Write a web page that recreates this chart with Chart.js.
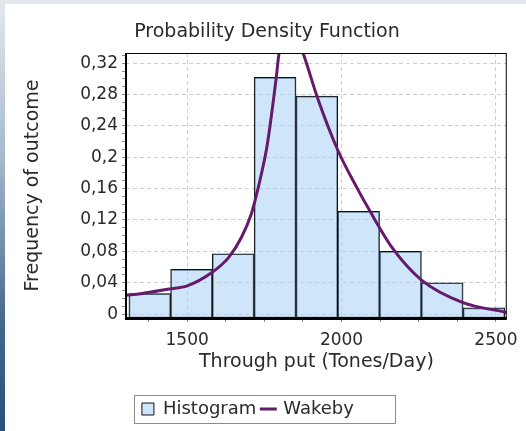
<!DOCTYPE html>
<html>
<head>
<meta charset="utf-8">
<title>Probability Density Function</title>
<script src="https://cdn.jsdelivr.net/npm/chart.js@4.4.1/dist/chart.umd.min.js"></script>
<style>
  html, body { margin: 0; padding: 0; }
  body {
    width: 526px;
    height: 431px;
    overflow: hidden;
    background: linear-gradient(to bottom, #e4e8ed 0%, #a9bbcf 35%, #45688d 75%, #2b4f78 100%);
  }
  #panel {
    position: absolute;
    left: 5px;
    top: 4px;
    width: 521px;
    height: 427px;
    background: #ffffff;
  }
  #chart-pdf { display: block; }
</style>
</head>
<body>
<div id="panel"><canvas id="chart-pdf" width="521" height="427"></canvas></div>
<script>
// Histogram: bin centres (Tones/Day) and relative frequency of each bin
const binCenters = [1379, 1514, 1649, 1785, 1920, 2055, 2191, 2326, 2461];
const binFreq = [0.026, 0.057, 0.077, 0.302, 0.278, 0.131, 0.080, 0.040, 0.008];

// Wakeby fitted density (peak goes above the plot)
const wakebyX = [1302, 1350, 1442, 1500, 1580, 1634, 1676, 1708, 1720, 1740, 1759, 1788, 1797,
                 1815, 1835, 1855, 1877, 1922, 1989, 2050, 2091, 2165, 2260, 2391, 2535];
const wakebyY = [0.024, 0.026, 0.032, 0.036, 0.053, 0.072, 0.098, 0.128, 0.145, 0.178, 0.215, 0.300, 0.331,
                 0.360, 0.365, 0.353, 0.331, 0.276, 0.208, 0.161, 0.132, 0.084, 0.043, 0.015, 0.002];

// Axes
const xMin = 1302;
const xMax = 2535;
const xTicks = [1500, 2000, 2500];
const xMinorTicks = [1375, 1625, 1750, 1875, 2125, 2250, 2375];
const yMin = -0.005;
const yMax = 0.333;
const yTicks = [0, 0.04, 0.08, 0.12, 0.16, 0.2, 0.24, 0.28, 0.32];
const yTickLabels = ['0', '0,04', '0,08', '0,12', '0,16', '0,2', '0,24', '0,28', '0,32'];
const yMinorTicks = [0.01, 0.02, 0.03, 0.05, 0.06, 0.07, 0.09, 0.10, 0.11, 0.13, 0.14, 0.15,
                     0.17, 0.18, 0.19, 0.21, 0.22, 0.23, 0.25, 0.26, 0.27, 0.29, 0.30, 0.31, 0.33];

const colors = {
  bar: 'rgba(166, 208, 246, 0.55)',
  barBorder: '#111111',
  curve: '#661a6c',
  grid: '#cfcfcf',
  tick: '#8a8a8a',
  text: '#2a2a2a',
  frame: '#000000',
  legendFrame: '#8c8c8c'
};

Chart.defaults.font.family = "'DejaVu Sans', Verdana, sans-serif";
Chart.defaults.color = colors.text;

// major ticks carry a label and a grid line, minor ones only a tick mark
function withMinor(major, minor) {
  return major.map(v => ({value: v, major: true}))
    .concat(minor.map(v => ({value: v, major: false})))
    .sort((a, b) => a.value - b.value);
}

function majorGrid(context) {
  return context.tick && context.tick.major ? colors.grid : 'rgba(0,0,0,0)';
}

// black frame round the plot, heavier on the left and bottom axis
const plotFrame = {
  id: 'plotFrame',
  afterDatasetsDraw(chart) {
    const {ctx, chartArea: a} = chart;
    ctx.save();
    ctx.strokeStyle = colors.frame;
    ctx.lineWidth = 1;
    ctx.strokeRect(a.left + 0.5, a.top + 0.5, a.right - a.left - 1, a.bottom - a.top);
    ctx.fillStyle = colors.frame;
    ctx.fillRect(a.left - 1, a.top, 2, a.bottom - a.top + 2);
    ctx.fillRect(a.left - 1, a.bottom - 1, a.right - a.left + 1, 3);
    ctx.restore();
  }
};

// thin box round the legend entries
const legendFrame = {
  id: 'legendFrame',
  afterDraw(chart) {
    const boxes = chart.legend && chart.legend.legendHitBoxes;
    if (!boxes || !boxes.length) return;
    const first = boxes[0];
    const last = boxes[boxes.length - 1];
    const x0 = Math.round(first.left - 8);
    const x1 = Math.round(last.left + last.width + 41);
    const y0 = Math.round(first.top - 5);
    const y1 = Math.round(first.top + first.height + 5);
    const ctx = chart.ctx;
    ctx.save();
    ctx.strokeStyle = colors.legendFrame;
    ctx.lineWidth = 1;
    ctx.strokeRect(x0 + 0.5, y0 + 0.5, x1 - x0, y1 - y0);
    ctx.restore();
  }
};

// title sits on the whole panel, legend entries a bit left of centre
const layoutNudge = {
  id: 'layoutNudge',
  afterLayout(chart) {
    chart.titleBlock.left += 8.5;
    chart.titleBlock.right += 8.5;
    chart.legend.left -= 10.6;
    chart.legend.right -= 10.6;
  }
};

window.chartInstances = {};

window.chartInstances['pdf'] = new Chart(document.getElementById('chart-pdf'), {
  type: 'bar',
  data: {
    datasets: [
      {
        label: 'Histogram',
        data: binCenters.map((x, i) => ({x: x, y: binFreq[i]})),
        backgroundColor: colors.bar,
        borderColor: colors.barBorder,
        borderWidth: 1,
        borderSkipped: false,
        base: yMin,
        barThickness: 'flex',
        barPercentage: 1.0,
        categoryPercentage: 1.0,
        pointStyle: 'rect',
        order: 2
      },
      {
        type: 'line',
        label: 'Wakeby',
        data: wakebyX.map((x, i) => ({x: x, y: wakebyY[i]})),
        borderColor: colors.curve,
        backgroundColor: colors.curve,
        borderWidth: 3,
        pointRadius: 0,
        pointStyle: 'line',
        cubicInterpolationMode: 'monotone',
        fill: false,
        order: 1
      }
    ]
  },
  options: {
    responsive: false,
    animation: false,
    events: [],
    layout: {
      padding: {left: 0, right: 14, top: 0, bottom: 3}
    },
    plugins: {
      title: {
        display: true,
        text: 'Probability Density Function',
        color: colors.text,
        font: {size: 19, weight: 'normal'},
        padding: {top: 16.6, bottom: 9.6}
      },
      legend: {
        position: 'bottom',
        labels: {
          usePointStyle: true,
          boxWidth: 12,
          boxHeight: 12,
          padding: 6,
          color: colors.text,
          font: {size: 18},
          sort: function(a, b) {
            return a.datasetIndex - b.datasetIndex;
          }
        }
      },
      tooltip: {
        enabled: false
      }
    },
    scales: {
      x: {
        type: 'linear',
        min: xMin,
        max: xMax,
        offset: false,
        afterBuildTicks: function(scale) {
          scale.ticks = withMinor(xTicks, xMinorTicks);
        },
        afterFit: function(scale) {
          scale.height = 76;
        },
        ticks: {
          padding: 8,
          autoSkip: false,
          maxRotation: 0,
          color: colors.text,
          font: {size: 17},
          callback: function(value) {
            return xTicks.indexOf(value) >= 0 ? String(value) : '';
          }
        },
        grid: {
          offset: false,
          color: majorGrid,
          tickColor: colors.tick,
          tickLength: 4
        },
        border: {
          display: false,
          dash: [4, 3]
        },
        title: {
          display: true,
          text: 'Through put (Tones/Day)',
          color: colors.text,
          font: {size: 19},
          padding: {top: 0, bottom: 20.6}
        }
      },
      y: {
        min: yMin,
        max: yMax,
        afterBuildTicks: function(scale) {
          scale.ticks = withMinor(yTicks, yMinorTicks);
        },
        afterFit: function(scale) {
          scale.width = 121;
        },
        ticks: {
          padding: 4,
          autoSkip: false,
          color: colors.text,
          font: {size: 17},
          callback: function(value) {
            const i = yTicks.findIndex(t => Math.abs(t - value) < 1e-9);
            return i >= 0 ? yTickLabels[i] : '';
          }
        },
        grid: {
          color: majorGrid,
          tickColor: colors.tick,
          tickLength: 4
        },
        border: {
          display: false,
          dash: [4, 3]
        },
        title: {
          display: true,
          text: 'Frequency of outcome',
          color: colors.text,
          font: {size: 19},
          padding: {top: 16.6, bottom: 0}
        }
      }
    }
  },
  plugins: [layoutNudge, plotFrame, legendFrame]
});
</script>
</body>
</html>
